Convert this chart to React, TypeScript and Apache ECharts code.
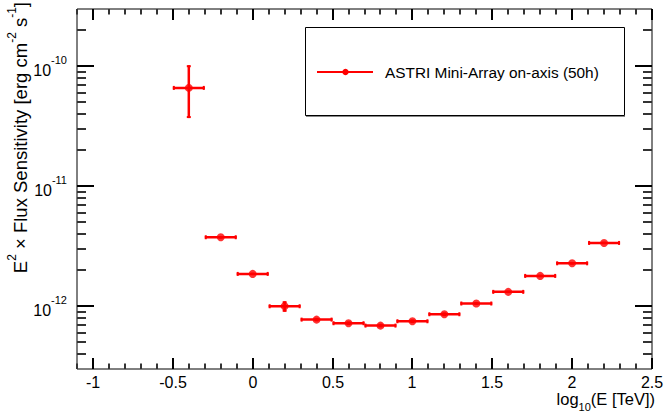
import React, { useEffect, useRef } from 'react';
import * as echarts from 'echarts';

// ---- data ----
const logEnergy = [-0.4, -0.2, 0, 0.2, 0.4, 0.6, 0.8, 1.0, 1.2, 1.4, 1.6, 1.8, 2.0, 2.2];
const binHalfWidth = [0.1, 0.1, 0.1, 0.1, 0.1, 0.1, 0.1, 0.1, 0.1, 0.1, 0.1, 0.1, 0.1, 0.1];
const sensitivity = [6.6e-11, 3.76e-12, 1.86e-12, 1.0e-12, 7.74e-13, 7.22e-13, 6.9e-13, 7.5e-13, 8.58e-13, 1.054e-12, 1.318e-12, 1.79e-12, 2.28e-12, 3.37e-12];
const errLow = [2.9e-11, 0.08e-12, 0.04e-12, 0.1e-12, 0.03e-13, 0.02e-13, 0.02e-13, 0.02e-13, 0.02e-13, 0.02e-12, 0.02e-12, 0.03e-12, 0.03e-12, 0.05e-12];
const errHigh = [3.6e-11, 0.08e-12, 0.04e-12, 0.1e-12, 0.03e-13, 0.02e-13, 0.02e-13, 0.02e-13, 0.02e-13, 0.02e-12, 0.02e-12, 0.03e-12, 0.03e-12, 0.05e-12];

const seriesName = 'ASTRI Mini-Array on-axis (50h)';

const xMajorTicks = [-1, -0.5, 0, 0.5, 1, 1.5, 2, 2.5];
const xTickLabels = ['-1', '-0.5', '0', '0.5', '1', '1.5', '2', '2.5'];
const yDecades = [-12, -11, -10];
const yTickLabels = ['-12', '-11', '-10'];

const X_MIN = -1.1;
const X_MAX = 2.5;
const Y_MIN = Math.log10(3e-13);
const Y_MAX = Math.log10(3e-10);

const FONT = "'Liberation Sans', Arial, Helvetica, sans-serif";

function buildXMinor(): number[] {
  const out: number[] = [];
  for (let i = -11; i <= 25; i++) {
    const v = i / 10;
    if (i % 5 !== 0 && v >= X_MIN - 1e-9 && v <= X_MAX + 1e-9) out.push(v);
  }
  return out;
}
function buildYMinor(): number[] {
  const out: number[] = [];
  for (let d = -13; d <= -10; d++) {
    for (let m = 2; m <= 9; m++) {
      const v = Math.log10(m) + d;
      if (v > Y_MIN + 1e-6 && v < Y_MAX - 1e-6) out.push(v);
    }
  }
  return out;
}

export default function App() {
  const ref = useRef<HTMLDivElement>(null);
  useEffect(() => {
    if (!ref.current) return;
    const chart = echarts.init(ref.current, null, { renderer: 'svg' });
    const xMinor = buildXMinor();
    const yMinor = buildYMinor();

    const errData = logEnergy.map((x, i) => [
      x,
      Math.log10(sensitivity[i]),
      x - binHalfWidth[i],
      x + binHalfWidth[i],
      Math.log10(sensitivity[i] - errLow[i]),
      Math.log10(sensitivity[i] + errHigh[i]),
    ]);
    const pointData = logEnergy.map((x, i) => [x, Math.log10(sensitivity[i])]);

    const errRender = (_params: any, api: any) => {
      const x = api.value(0);
      const y = api.value(1);
      const [cx, cy] = api.coord([x, y]);
      const xl = api.coord([api.value(2), y])[0];
      const xh = api.coord([api.value(3), y])[0];
      const yl = api.coord([x, api.value(4)])[1];
      const yh = api.coord([x, api.value(5)])[1];
      const st = () => ({ stroke: '#ff0000', lineWidth: 2.5 });
      const cap = () => ({ stroke: '#ff0000', lineWidth: 2 });
      return {
        type: 'group',
        children: [
          { type: 'line', shape: { x1: xl, y1: cy, x2: xh, y2: cy }, style: st() },
          { type: 'line', shape: { x1: cx, y1: yl, x2: cx, y2: yh }, style: st() },
          { type: 'line', shape: { x1: xl + 1, y1: cy - 2, x2: xl + 1, y2: cy + 2 }, style: cap() },
          { type: 'line', shape: { x1: xh - 1, y1: cy - 2, x2: xh - 1, y2: cy + 2 }, style: cap() },
          { type: 'line', shape: { x1: cx - 2, y1: yl - 1, x2: cx + 2, y2: yl - 1 }, style: cap() },
          { type: 'line', shape: { x1: cx - 2, y1: yh + 1, x2: cx + 2, y2: yh + 1 }, style: cap() },
        ],
      };
    };

    const legendGraphics: any[] = [
      {
        type: 'rect',
        shape: { x: 305.5, y: 27.5, width: 319, height: 88 },
        style: { fill: '#fff', stroke: '#000', lineWidth: 1 },
        z: 10,
      },
      {
        type: 'line',
        shape: { x1: 306, y1: 116.5, x2: 625, y2: 116.5 },
        style: { stroke: '#888', lineWidth: 1 },
        z: 10,
      },
      {
        type: 'line',
        shape: { x1: 317, y1: 72, x2: 373, y2: 72 },
        style: { stroke: '#ff0000', lineWidth: 2 },
        z: 11,
      },
      {
        type: 'circle',
        shape: { cx: 345.5, cy: 72, r: 3.2 },
        style: { fill: '#ff0000' },
        z: 11,
      },
      {
        type: 'text',
        x: 385,
        y: 72,
        style: { text: seriesName, font: `15.4px ${FONT}`, fill: '#000', align: 'left', verticalAlign: 'middle' },
        z: 11,
      },
      {
        type: 'text',
        x: 18,
        y: 2,
        rotation: Math.PI / 2,
        style: {
          text: '{n|E}{s|2}{n| × Flux Sensitivity [erg cm}{s|-2}{n| s}{s|-1}{n|]}',
          align: 'right',
          verticalAlign: 'middle',
          fill: '#000',
          rich: {
            n: { fontSize: 18.5, fontFamily: FONT, fill: '#000', lineHeight: 24, verticalAlign: 'bottom' },
            s: { fontSize: 12, fontFamily: FONT, fill: '#000', lineHeight: 14, verticalAlign: 'top' },
          },
        },
      },
      {
        type: 'text',
        x: 655,
        y: 401,
        style: {
          text: '{n|log}{b|10}{n|(E [TeV])}',
          align: 'right',
          verticalAlign: 'middle',
          fill: '#000',
          rich: {
            n: { fontSize: 16.5, fontFamily: FONT, fill: '#000', lineHeight: 22, verticalAlign: 'top' },
            b: { fontSize: 11, fontFamily: FONT, fill: '#000', lineHeight: 13, verticalAlign: 'bottom' },
          },
        },
      },
    ];

    chart.setOption({
      animation: false,
      backgroundColor: '#fff',
      grid: { left: 77, right: 13, top: 9, bottom: 45, containLabel: false, show: true, borderColor: '#000', borderWidth: 1, backgroundColor: 'transparent' },
      xAxis: {
        type: 'value',
        min: X_MIN,
        max: X_MAX,
        axisLine: { show: false },
        axisTick: { show: false },
        axisLabel: { show: false },
        splitLine: { show: false },
      },
      yAxis: {
        type: 'value',
        min: Y_MIN,
        max: Y_MAX,
        axisLine: { show: false },
        axisTick: { show: false },
        axisLabel: { show: false },
        splitLine: { show: false },
      },
      series: [
        {
          type: 'custom',
          name: seriesName,
          data: errData,
          encode: { x: [0, 2, 3], y: [1, 4, 5] },
          renderItem: errRender,
          clip: false,
          z: 3,
        },
        {
          type: 'scatter',
          name: seriesName,
          data: pointData,
          symbol: 'circle',
          symbolSize: 8,
          itemStyle: { color: '#ff0000' },
          z: 4,
        },
      ],
    });

    // ticks and tick labels, placed through the chart's own scales
    const toPx = (x: number, y: number) => chart.convertToPixel({ gridIndex: 0 }, [x, y]) as number[];
    const [x0, y0] = toPx(X_MIN, Y_MIN);
    const [x1, y1] = toPx(X_MAX, Y_MAX);
    const bottom = Math.round(y0);
    const top = Math.round(y1);
    const left = Math.round(x0);
    const right = Math.round(x1);
    const g: any[] = [];
    const seg = (xa: number, ya: number, xb: number, yb: number, color: string) => ({
      type: 'line',
      shape: { x1: xa, y1: ya, x2: xb, y2: yb },
      style: { stroke: color, lineWidth: 2 },
      z: 6,
    });
    xMajorTicks.forEach((v) => {
      const px = Math.round(toPx(v, Y_MIN)[0]);
      g.push(seg(px, bottom, px, bottom - 11, '#000'));
      g.push(seg(px, top, px, top + 11, '#000'));
    });
    xMinor.forEach((v) => {
      const px = Math.round(toPx(v, Y_MIN)[0]);
      g.push(seg(px, bottom, px, bottom - 5.5, '#333'));
      g.push(seg(px, top, px, top + 5.5, '#333'));
    });
    yDecades.forEach((v) => {
      const py = Math.round(toPx(X_MIN, v)[1]);
      g.push(seg(left, py, left + 17, py, '#000'));
      g.push(seg(right, py, right - 17, py, '#000'));
    });
    yMinor.forEach((v) => {
      const py = Math.round(toPx(X_MIN, v)[1]);
      g.push(seg(left, py, left + 9, py, '#333'));
      g.push(seg(right, py, right - 9, py, '#333'));
    });
    xMajorTicks.forEach((v, i) => {
      const px = Math.round(toPx(v, Y_MIN)[0]);
      g.push({
        type: 'text',
        x: px,
        y: bottom + 5,
        style: { text: xTickLabels[i], font: `16px ${FONT}`, fill: '#000', align: 'center', verticalAlign: 'top' },
        z: 5,
      });
    });
    yDecades.forEach((v, i) => {
      const py = Math.round(toPx(X_MIN, v)[1]);
      g.push({
        type: 'text',
        x: left - 10,
        y: py,
        style: {
          text: `{n|10}{s|${yTickLabels[i]}}`,
          align: 'right',
          verticalAlign: 'middle',
          fill: '#000',
          rich: {
            n: { fontSize: 16, fontFamily: FONT, fill: '#000', lineHeight: 24, verticalAlign: 'bottom' },
            s: { fontSize: 11, fontFamily: FONT, fill: '#000', lineHeight: 13, verticalAlign: 'top' },
          },
        },
        z: 5,
      });
    });

    chart.setOption({ graphic: [...g, ...legendGraphics] });
    return () => chart.dispose();
  }, []);
  return (
    <div
      ref={ref}
      style={{ position: 'fixed', left: 0, top: 0, width: 665, height: 414, background: '#fff' }}
    />
  );
}
